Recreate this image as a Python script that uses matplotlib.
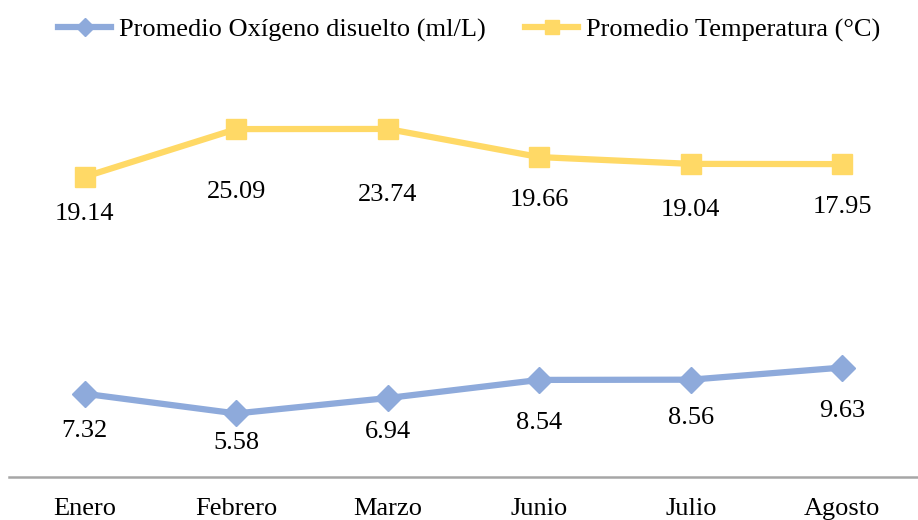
import numpy as np
import matplotlib
matplotlib.use("Agg")
import matplotlib.pyplot as plt
from matplotlib.lines import Line2D

meses = ["Enero", "Febrero", "Marzo", "Junio", "Julio", "Agosto"]
oxigeno = [7.32, 5.58, 6.94, 8.54, 8.56, 9.63]
temperatura = [19.14, 25.09, 23.74, 19.66, 19.04, 17.95]

# stacked line chart: temperature sits on top of oxygen
apilado = np.array(oxigeno) + np.array(temperatura)

# label offsets below each point (pixels)
dy_oxi = [37, 30, 34, 43, 38, 43]
dy_temp = [37, 63, 66, 43, 46, 43]

azul = "#8EAADB"
amarillo = "#FFD966"

plt.rcParams["font.family"] = ["Liberation Serif", "DejaVu Serif"]
fs = 19

fig = plt.figure(figsize=(9.18, 5.2), dpi=100)
ax = fig.add_axes([9 / 918, 1 - 476.7 / 520, 909 / 918, (476.7 - 80) / 520])

x = np.arange(len(meses))
ax.plot(x, oxigeno, color=azul, lw=4.5, marker="D", ms=13, solid_joinstyle="round", zorder=3)
ax.plot(x, apilado, color=amarillo, lw=4.5, marker="s", ms=14, solid_joinstyle="round", zorder=3)

for i in range(len(meses)):
    ax.annotate(f"{oxigeno[i]:.2f}", (x[i], oxigeno[i]), xytext=(0, -dy_oxi[i]),
                textcoords="offset pixels", ha="center", va="center", fontsize=fs)
    ax.annotate(f"{temperatura[i]:.2f}", (x[i], apilado[i]), xytext=(0, -dy_temp[i]),
                textcoords="offset pixels", ha="center", va="center", fontsize=fs)

ax.set_xlim(-0.5, len(meses) - 0.5)
ax.set_ylim(0, 35)
ax.set_yticks([])
ax.set_xticks(x)
ax.set_xticklabels(meses, fontsize=fs)
ax.tick_params(axis="x", length=0, pad=15)
for s in ["top", "left", "right"]:
    ax.spines[s].set_visible(False)
ax.spines["bottom"].set_color("#A6A6A6")
ax.spines["bottom"].set_linewidth(1.8)

handles = [
    Line2D([], [], color=azul, lw=4.5, marker="D", ms=9),
    Line2D([], [], color=amarillo, lw=4.5, marker="s", ms=10),
]
fig.legend(handles, ["Promedio Oxígeno disuelto (ml/L)", "Promedio Temperatura (°C)"],
           loc="center", bbox_to_anchor=(0.511, 1 - 30 / 520), ncol=2, frameon=False,
           fontsize=fs, handlelength=2.0, handletextpad=0.3, columnspacing=1.5)

fig.savefig("out.png", dpi=100)
